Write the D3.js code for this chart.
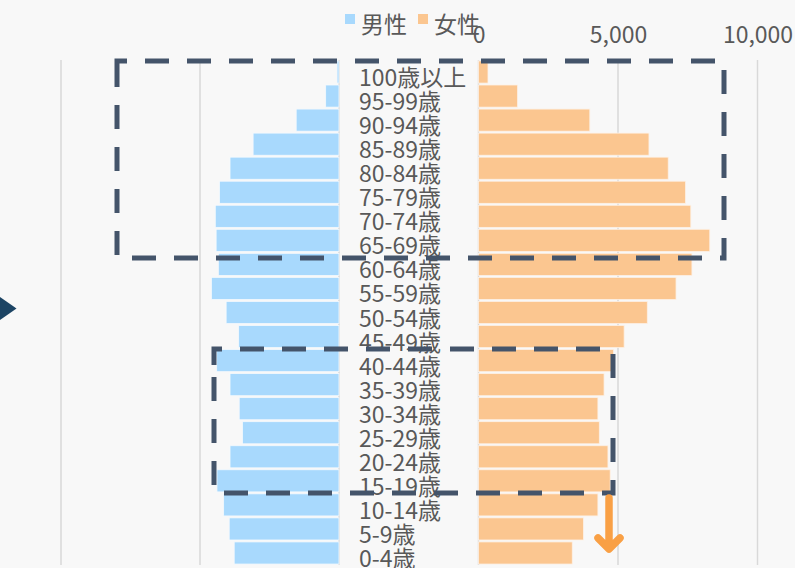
<!DOCTYPE html>
<html><head><meta charset="utf-8">
<script src="https://cdn.jsdelivr.net/npm/d3@7"></script>
<style>
html,body{margin:0;padding:0;background:#f8f8f8;}
svg{display:block;}
text{font-family:"Noto Sans CJK JP","Noto Sans",sans-serif;fill:#595959;}
</style></head><body>
<svg id="c" width="795" height="568"></svg>
<script>
const categories = ["100歳以上","95-99歳","90-94歳","85-89歳","80-84歳","75-79歳","70-74歳","65-69歳","60-64歳","55-59歳","50-54歳","45-49歳","40-44歳","35-39歳","30-34歳","25-29歳","20-24歳","15-19歳","10-14歳","5-9歳","0-4歳"];
const male   = [70,480,1540,3090,3920,4300,4450,4420,4340,4590,4060,3610,4400,3920,3590,3470,3920,4390,4150,3950,3770];
const female = [340,1400,3990,6110,6800,7420,7610,8290,7650,7080,6050,5220,4840,4500,4280,4330,4640,4720,4280,3760,3360];
const ticks = [0,5000,10000];
const tickLabels = ["0","5,000","10,000"];
const seriesNames = ["男性","女性"];
const colors = ["#a8d9fd","#fbc690"];

const svg = d3.select("#c");
const y = d3.scaleBand().domain(categories).range([60,565]).paddingInner(0.08).paddingOuter(0.04);
const xL = d3.scaleLinear().domain([0,10000]).range([339,61]);
const xR = d3.scaleLinear().domain([0,10000]).range([478.5,757.5]);

// gridlines
const g = svg.append("g");
[xL, xR].forEach(sc => {
  g.selectAll(null).data(ticks).enter().append("line")
    .attr("x1", d=>sc(d)).attr("x2", d=>sc(d)).attr("y1",60).attr("y2",565)
    .attr("stroke","#d9d9d9").attr("stroke-width",1.5);
});

// bars
svg.append("g").selectAll("rect").data(categories).enter().append("rect")
  .attr("x", (d,i)=>xL(male[i])).attr("width",(d,i)=>xL(0)-xL(male[i]))
  .attr("y", d=>y(d)).attr("height", y.bandwidth())
  .attr("fill", colors[0]).attr("stroke","#f4f9fd").attr("stroke-width",0.8);
svg.append("g").selectAll("rect").data(categories).enter().append("rect")
  .attr("x", xR(0)).attr("width",(d,i)=>xR(female[i])-xR(0))
  .attr("y", d=>y(d)).attr("height", y.bandwidth())
  .attr("fill", colors[1]).attr("stroke","#fdf1e6").attr("stroke-width",0.8);

// top axis
const ax = d3.axisTop(xR).tickValues(ticks).tickFormat((d,i)=>tickLabels[i]).tickSize(0);
const axg = svg.append("g").attr("transform","translate(0,43)").call(ax);
axg.select(".domain").remove();
axg.selectAll("text").attr("font-size",23).attr("dy",0).attr("y",0)
  .style("font-family",'"Noto Sans CJK JP",sans-serif').attr("fill","#595959");

// category labels
svg.append("g").selectAll("text").data(categories).enter().append("text")
  .attr("x",359).attr("y", d=>y(d)+y.bandwidth()/2+14)
  .attr("font-size",23).text(d=>d);

// legend
const lg = svg.append("g");
const lx = [345,418];
seriesNames.forEach((s,i)=>{
  lg.append("rect").attr("x",lx[i]).attr("y",14).attr("width",10).attr("height",10).attr("fill",colors[i]);
  lg.append("text").attr("x",lx[i]+16).attr("y",33).attr("font-size",23).text(s);
});

// dashed boxes
const dash = "#44546a";
svg.append("path").attr("d","M117,75V61H724V258H117Z")
  .attr("fill","none").attr("stroke",dash).attr("stroke-width",5).attr("stroke-dasharray","24 18");
svg.append("path").attr("d","M214,365V349H613V493H214Z")
  .attr("fill","none").attr("stroke",dash).attr("stroke-width",5).attr("stroke-dasharray","24 18");

// orange arrow
svg.append("path").attr("d","M609,498V548M598,538L609,549L620,538")
  .attr("fill","none").attr("stroke","#f9a045").attr("stroke-width",7.5)
  .attr("stroke-linecap","round").attr("stroke-linejoin","round");

// left triangle
svg.append("path").attr("d","M0,297L16.5,308.5L0,320Z").attr("fill","#1c4464");
</script>
</body></html>
